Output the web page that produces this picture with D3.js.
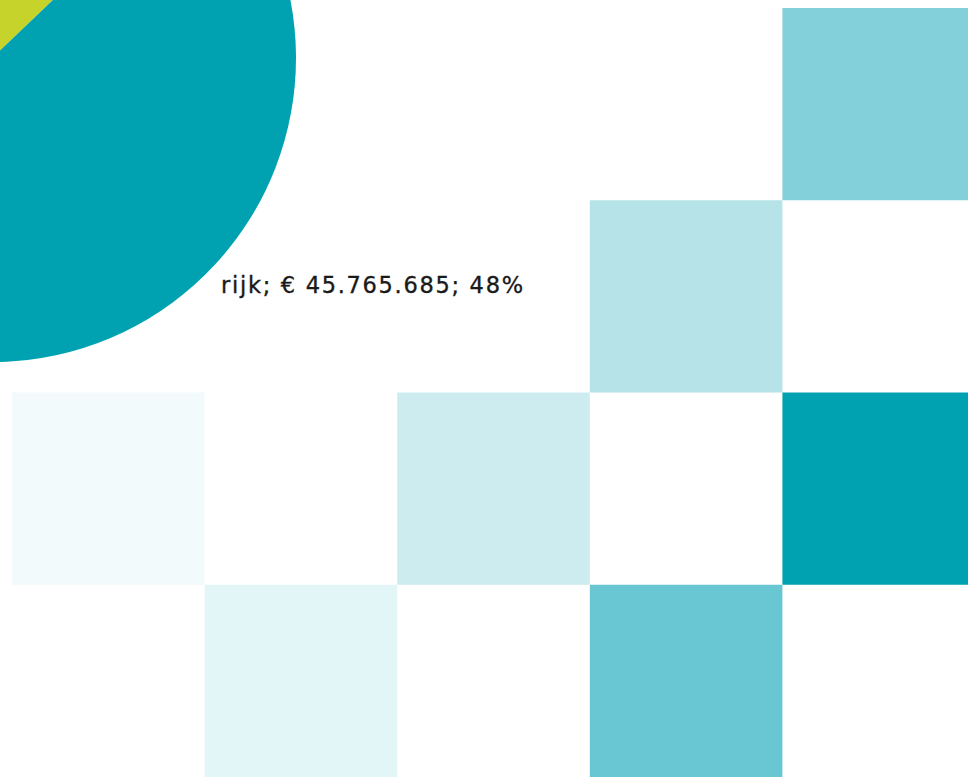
<!doctype html>
<html>
<head>
    <meta charset="utf-8">
    <title>Pie - rijk</title>
    <script src="https://d3js.org/d3.v7.min.js"></script>
    <style type="text/css">
        html, body { margin: 0; background: #fff; }
        svg { display: block; }
        .label { font-family: "DejaVu Sans", sans-serif; font-size: 22.5px; fill: #1a1a1a; stroke: #1a1a1a; stroke-width: 0.35px; letter-spacing: 1.7px; }
    </style>
</head>
<body>
    <div id="chart"></div>

    <script type="text/javascript">
        // pie data (only the rijk label is visible in the crop)
        var pieCategories = ["overig", "rijk"];
        var pieValues = [49578659, 45765685];
        var pieShares = [52, 48];
        var pieColors = ["#c6d32a", "#00a2b1"];

        // decorative tile grid: column, row, colour
        var tileCols = [4, 3, 0, 2, 4, 1, 3];
        var tileRows = [0, 1, 2, 2, 2, 3, 3];
        var tileColors = ["#83d0da", "#b5e3e7", "#f2fafb", "#cdecf0", "#00a2b1", "#e2f5f7", "#69c7d4"];

        var width = 968, height = 779;

        var svg = d3.select("#chart").append("svg")
            .attr("width", width)
            .attr("height", height);

        svg.append("rect").attr("width", width).attr("height", height).attr("fill", "#fff");

        // grid
        var x = d3.scaleBand().domain(d3.range(5)).range([12, 975]);
        var y = d3.scaleBand().domain(d3.range(4)).range([8, 777]);

        svg.selectAll(".tile")
            .data(tileCols)
            .enter()
            .append("rect")
            .attr("class", "tile")
            .attr("x", function(d) { return x(d); })
            .attr("y", function(d, i) { return y(tileRows[i]); })
            .attr("width", x.bandwidth())
            .attr("height", y.bandwidth())
            .attr("fill", function(d, i) { return tileColors[i]; });

        // pie, mostly cropped off the top-left
        var radius = 304;
        var g = svg.append("g").attr("transform", "translate(-8,58)");

        var start = -140.8 * Math.PI / 180;
        var pie = d3.pie().sort(null)
            .startAngle(start)
            .endAngle(start + 2 * Math.PI);

        var arcs = pie(pieValues);
        var arc = d3.arc().innerRadius(0).outerRadius(radius);
        var labelArc = d3.arc().innerRadius(radius * 1.027).outerRadius(radius * 1.027);

        g.selectAll(".slice")
            .data(arcs)
            .enter()
            .append("path")
            .attr("class", "slice")
            .attr("d", arc)
            .attr("fill", function(d, i) { return pieColors[i]; });

        var fmt = d3.formatLocale({ decimal: ",", thousands: ".", grouping: [3], currency: ["€ ", ""] }).format("$,.0f");

        g.selectAll(".label")
            .data(arcs.filter(function(d, i) { return pieCategories[i] === "rijk"; }))
            .enter()
            .append("text")
            .attr("class", "label")
            .attr("transform", function(d) { return "translate(" + labelArc.centroid(d) + ")"; })
            .attr("dy", 23)
            .text(function(d) {
                var i = d.index;
                return pieCategories[i] + "; " + fmt(pieValues[i]) + "; " + pieShares[i] + "%";
            });
    </script>
</body>
</html>
